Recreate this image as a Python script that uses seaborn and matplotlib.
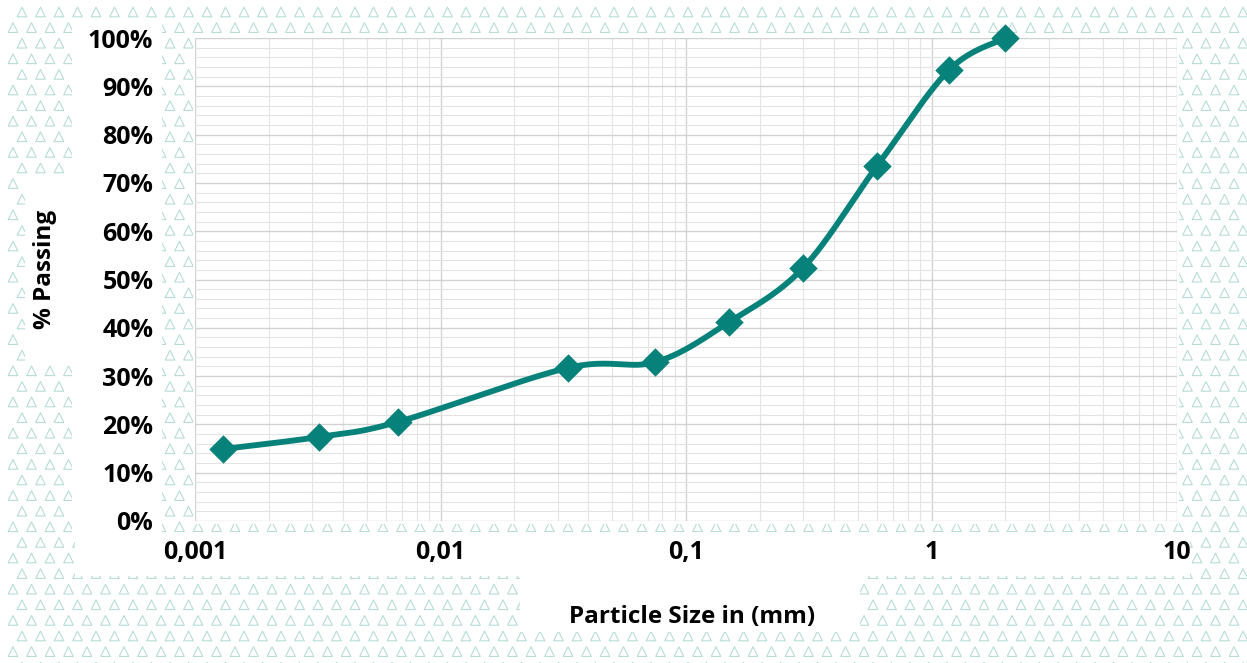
import numpy as np
import pandas as pd
import matplotlib
matplotlib.use("Agg")
import matplotlib.pyplot as plt
from matplotlib.patches import Rectangle
from matplotlib.ticker import FixedLocator, FixedFormatter, NullFormatter
import seaborn as sns

# Grain-size distribution: sieve + hydrometer results
particle_size_mm = [0.0013, 0.0032, 0.0067, 0.033, 0.075, 0.15, 0.30, 0.60, 1.18, 2.0]
percent_passing = [14.9, 17.4, 20.5, 31.7, 32.9, 41.2, 52.4, 73.5, 93.4, 100.0]

x_ticks = [0.001, 0.01, 0.1, 1, 10]
x_tick_labels = ["0,001", "0,01", "0,1", "1", "10"]
y_ticks = [0, 10, 20, 30, 40, 50, 60, 70, 80, 90, 100]
y_tick_labels = ["0%", "10%", "20%", "30%", "40%", "50%", "60%", "70%", "80%", "90%", "100%"]

TEAL = "#07827a"
PATTERN = "#b3dbd5"
W, H = 1247, 663

sns.set_theme(style="white")
plt.rcParams["font.family"] = ["Open Sans", "DejaVu Sans"]
plt.rcParams["font.weight"] = "bold"

fig = plt.figure(figsize=(W / 100, H / 100), dpi=100)
fig.patch.set_facecolor("white")

# ---- decorative triangle backdrop, in pixel coordinates ----
bg = fig.add_axes([0, 0, 1, 1], zorder=0)
bg.set_xlim(0, W)
bg.set_ylim(H, 0)
bg.axis("off")
row_y = np.arange(12, H + 10, 15.6)
tri_x, tri_y = [], []
for i, yy in enumerate(row_y):
    start = 13 if i % 2 else 22
    xs = np.arange(start, W + 10, 18.5)
    tri_x.extend(xs)
    tri_y.extend([yy] * len(xs))
bg.scatter(tri_x, tri_y, marker="^", s=48, facecolors="none",
           edgecolors=PATTERN, linewidths=0.75)

# white panels behind labels and plot
panels = [
    (72, 20, 90, 512),      # y tick labels
    (193, 36, 986, 488),    # plot area
    (75, 532, 1115, 44),    # x tick labels
    (520, 574, 340, 58),    # x axis title
    (25, 175, 48, 190),     # y axis title
]
for x0, y0, w, h in panels:
    bg.add_patch(Rectangle((x0, y0), w, h, facecolor="white", edgecolor="none"))

# ---- main chart ----
left, right, top, bottom = 195, 1177, 38, 521
ax = fig.add_axes([left / W, 1 - bottom / H, (right - left) / W, (bottom - top) / H], zorder=2)
ax.set_facecolor("white")

# smoothed curve (Catmull-Rom / Bezier in screen-proportional space)
u = np.log10(particle_size_mm) * (right - left) / 4.0
v = np.array(percent_passing) * (bottom - top) / 100.0
P = np.column_stack([u, v])
Pext = np.vstack([P[0], P, P[-1]])
t = np.linspace(0, 1, 60)
curve = []
for k in range(len(P) - 1):
    p0, p1, p2, p3 = Pext[k], Pext[k + 1], Pext[k + 2], Pext[k + 3]
    c1 = p1 + (p2 - p0) / 6.0
    c2 = p2 - (p3 - p1) / 6.0
    seg = ((1 - t) ** 3)[:, None] * p1 + (3 * (1 - t) ** 2 * t)[:, None] * c1 \
        + (3 * (1 - t) * t ** 2)[:, None] * c2 + (t ** 3)[:, None] * p2
    curve.append(seg if k == 0 else seg[1:])
curve = np.vstack(curve)
smooth = pd.DataFrame({
    "size": 10 ** (curve[:, 0] * 4.0 / (right - left)),
    "passing": curve[:, 1] * 100.0 / (bottom - top),
})
points = pd.DataFrame({"size": particle_size_mm, "passing": percent_passing})

sns.lineplot(data=smooth, x="size", y="passing", ax=ax, color=TEAL,
             linewidth=4.2, sort=False, estimator=None, zorder=3)
sns.scatterplot(data=points, x="size", y="passing", ax=ax, marker="D",
                s=210, color=TEAL, edgecolor=TEAL, linewidth=0, zorder=4,
                clip_on=False)

ax.set_xscale("log")
ax.set_xlim(0.001, 10)
ax.set_ylim(0, 100)

# grid
ax.xaxis.set_major_locator(FixedLocator(x_ticks))
ax.xaxis.set_major_formatter(FixedFormatter(x_tick_labels))
ax.xaxis.set_minor_locator(FixedLocator(
    [m * 10.0 ** e for e in range(-3, 1) for m in range(2, 10)]))
ax.xaxis.set_minor_formatter(NullFormatter())
ax.yaxis.set_major_locator(FixedLocator(y_ticks))
ax.yaxis.set_major_formatter(FixedFormatter(y_tick_labels))
ax.yaxis.set_minor_locator(FixedLocator(np.arange(2, 100, 2)))
ax.grid(which="major", color="#d2d2d2", linewidth=1.0)
ax.grid(which="minor", color="#e4e4e4", linewidth=0.8)
ax.set_axisbelow(True)
for s in ax.spines.values():
    s.set_visible(False)

ax.tick_params(axis="y", which="major", length=10, width=1.0, color="#d2d2d2",
               pad=20, labelsize=18)
ax.tick_params(axis="y", which="minor", length=0)
ax.tick_params(axis="x", which="both", length=0, pad=14, labelsize=18)
for lab in ax.get_xticklabels() + ax.get_yticklabels():
    lab.set_fontweight("bold")
    lab.set_color("black")

ax.set_xlabel("Particle Size in (mm)", fontsize=17.5, fontweight="bold", color="black")
ax.set_ylabel("% Passing", fontsize=17.5, fontweight="bold", color="black")
ax.xaxis.set_label_coords((692 - left) / (right - left), -(617 - bottom) / (bottom - top))
ax.xaxis.label.set_va("center")
ax.yaxis.set_label_coords((45 - left) / (right - left), 0.52)
ax.yaxis.label.set_va("center")

fig.savefig("out.png", dpi=100, facecolor="white")
